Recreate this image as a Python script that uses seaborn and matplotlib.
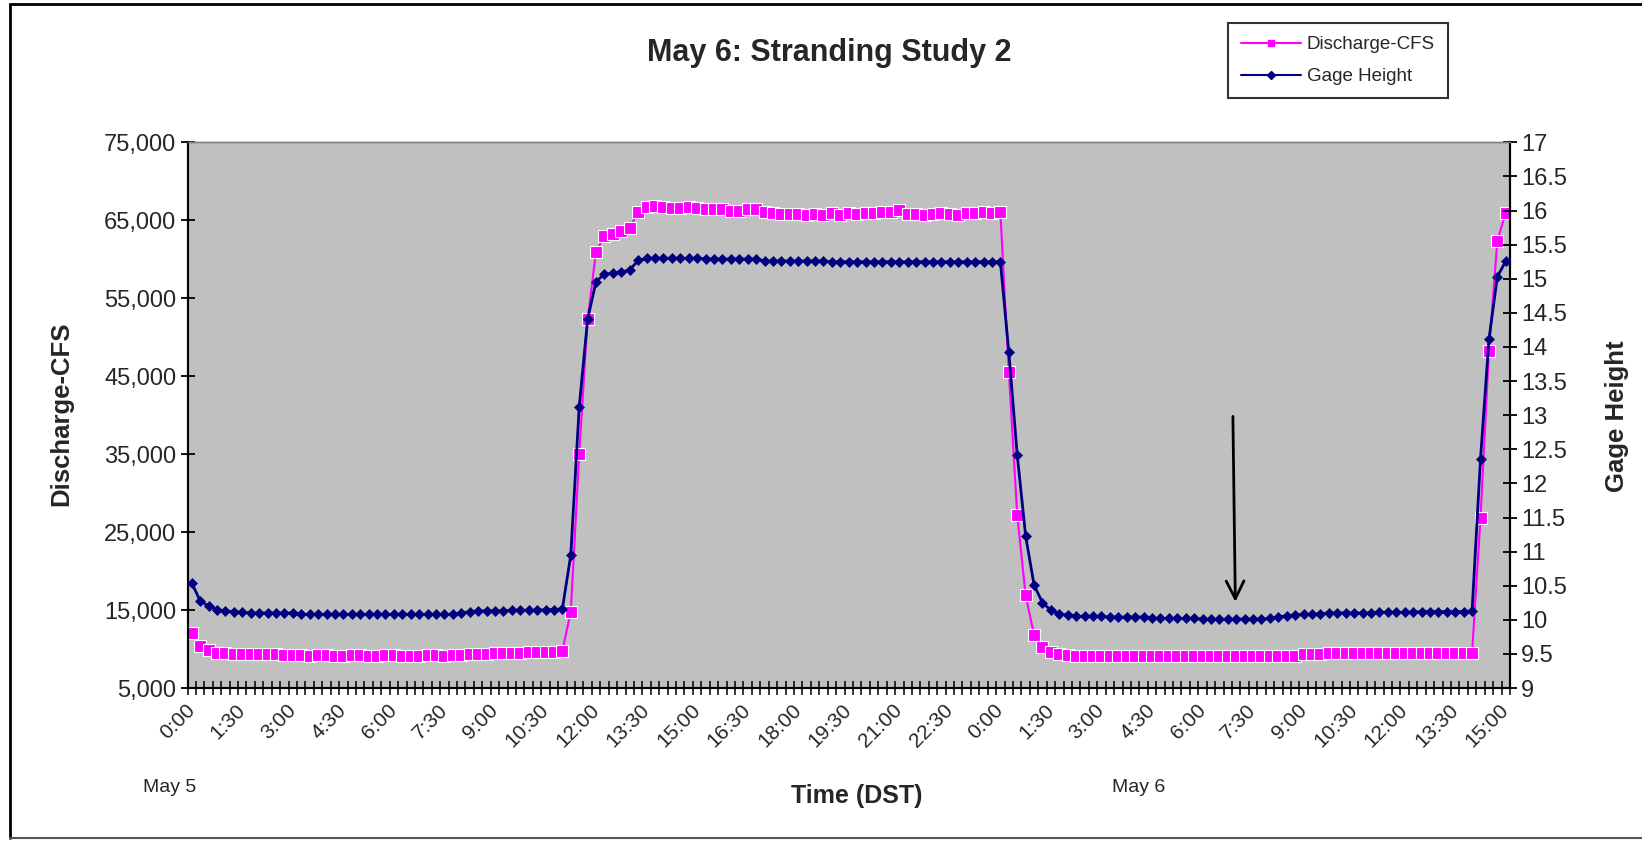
import matplotlib
matplotlib.use("Agg")
import matplotlib.pyplot as plt
import seaborn as sns
import pandas as pd
import numpy as np
from matplotlib.lines import Line2D
from matplotlib.ticker import FuncFormatter

# ---------------- data (15-minute readings, May 5 0:00 -> May 6 15:00) -------------
discharge_cfs = [
    12000, 10400, 9900, 9550, 9450,
    9350, 9350, 9350, 9350, 9350, 9350,
    9200, 9200, 9200, 9150, 9200, 9200, 9150, 9150, 9200, 9200, 9150,
    9150, 9200, 9200, 9150, 9150, 9150, 9200, 9200, 9150, 9200, 9250,
    9350, 9350, 9400,
    9500, 9500, 9500, 9550,
    9600, 9600, 9600, 9650,
    9750,
    14800, 35000, 52300, 61000, 63000, 63300, 63600, 64000,
    66100, 66650, 66850, 66750, 66550, 66550, 66650, 66550, 66450, 66450,
    66400, 66250, 66250, 66450, 66400, 66100, 66000, 65800, 65800, 65800,
    65700, 65800, 65700, 65900, 65700, 65900, 65800, 66000, 65900, 66100,
    66100, 66300, 65800, 65800, 65700, 65800, 65900, 65800, 65700, 65900,
    66000, 66100, 65900, 66100,
    45600, 27200, 16900, 11800, 10200, 9650, 9320,
    9230,
    9150, 9150, 9150, 9150,
    9050, 9050, 9050, 9050, 9050, 9050, 9050, 9050, 9050, 9050,
    9050, 9050, 9050, 9050, 9050, 9050, 9050, 9050, 9050,
    9150, 9150, 9150, 9150,
    9320, 9320, 9350,
    9450, 9450, 9450, 9450, 9450, 9450, 9450, 9450, 9450, 9450,
    9500, 9500, 9500, 9500, 9500, 9500, 9500,
    9550,
    26800, 48200, 62400, 66000,
]

gage_height = [
    10.54, 10.28, 10.20, 10.15, 10.13, 10.12, 10.11,
    10.10, 10.10, 10.10, 10.10, 10.10, 10.10,
    10.08, 10.08, 10.08, 10.08, 10.08, 10.08, 10.08, 10.08, 10.08, 10.08,
    10.08, 10.08, 10.08, 10.08, 10.08, 10.08, 10.08, 10.08, 10.08,
    10.10, 10.12,
    10.13, 10.13, 10.13, 10.13,
    10.14, 10.14, 10.14, 10.14,
    10.15, 10.15, 10.16,
    10.95, 13.12, 14.41, 14.96, 15.07, 15.08, 15.10, 15.13,
    15.27,
    15.30, 15.30, 15.30, 15.30, 15.30, 15.30, 15.30,
    15.29, 15.29, 15.29, 15.29, 15.29, 15.29, 15.29,
    15.26, 15.26, 15.26, 15.26, 15.26, 15.26, 15.26, 15.26,
    15.25, 15.25, 15.25, 15.25, 15.25, 15.25, 15.25, 15.25, 15.25, 15.25,
    15.25, 15.25, 15.25, 15.25, 15.25, 15.25, 15.25, 15.25, 15.25, 15.25,
    15.25,
    13.93, 12.42, 11.23, 10.51, 10.25, 10.14, 10.085,
    10.07,
    10.05, 10.05, 10.05, 10.05,
    10.04, 10.04, 10.04, 10.04, 10.04,
    10.02, 10.02, 10.02, 10.02, 10.02, 10.02,
    10.01, 10.01, 10.01, 10.01, 10.01, 10.01, 10.01, 10.01,
    10.02, 10.04, 10.06, 10.07,
    10.08, 10.08, 10.09,
    10.10, 10.10, 10.10, 10.10, 10.10, 10.10,
    10.11, 10.11, 10.11, 10.11, 10.11,
    10.12, 10.12, 10.12, 10.12, 10.12, 10.12,
    10.13,
    12.36, 14.11, 15.03, 15.26,
]

time_tick_labels = [
    "0:00", "1:30", "3:00", "4:30", "6:00", "7:30", "9:00", "10:30", "12:00",
    "13:30", "15:00", "16:30", "18:00", "19:30", "21:00", "22:30", "0:00",
    "1:30", "3:00", "4:30", "6:00", "7:30", "9:00", "10:30", "12:00",
    "13:30", "15:00",
]
label_every = 6  # one label every 6 readings (1.5 h)

df = pd.DataFrame({
    "reading": np.arange(len(discharge_cfs)),
    "Discharge-CFS": discharge_cfs,
    "Gage Height": gage_height,
})

# ---------------- figure ---------------------------------------------------------
sns.set_theme(style="white")
plt.rcParams["font.family"] = ["Liberation Sans", "DejaVu Sans"]

MAG = "#FF00FF"
NAVY = "#000080"

fig = plt.figure(figsize=(16.42, 8.47), dpi=100)
ax = fig.add_axes([0.1142, 0.1877, 0.8054, 0.6442])
ax.set_facecolor("#C0C0C0")

sns.lineplot(data=df, x="reading", y="Discharge-CFS", ax=ax, color=MAG,
             lw=1.5, marker="s", markersize=8, markeredgecolor="white",
             markeredgewidth=0.8, zorder=3)
ax2 = ax.twinx()
sns.lineplot(data=df, x="reading", y="Gage Height", ax=ax2, color=NAVY,
             lw=2.0, marker="D", markersize=5.5, markeredgecolor=NAVY,
             markeredgewidth=0.5, zorder=4)

n = len(discharge_cfs)
ax.set_xlim(-0.5, n - 0.5)
ax.set_ylim(5000, 75000)
ax2.set_ylim(9, 17)

ax.set_yticks(np.arange(5000, 75001, 10000))
ax.yaxis.set_major_formatter(FuncFormatter(lambda v, p: f"{int(v):,}"))
ax2.set_yticks(np.arange(9, 17.01, 0.5))
ax2.yaxis.set_major_formatter(FuncFormatter(lambda v, p: f"{v:g}"))

ax.set_xticks(np.arange(0, n, label_every))
ax.set_xticklabels(time_tick_labels, rotation=45, ha="right", va="center",
                   rotation_mode="anchor", fontsize=15)
ax.set_xticks(np.arange(-0.5, n, 1), minor=True)
ax.tick_params(axis="x", which="major", length=0, pad=14)
ax.tick_params(axis="x", which="minor", direction="inout", length=10,
               width=1.1, color="black", bottom=True)
ax.tick_params(axis="y", direction="inout", length=10, width=1.3,
               color="black", labelsize=17, pad=3, left=True)
ax2.tick_params(axis="y", direction="inout", length=10, width=1.3,
                color="black", labelsize=17, pad=3, right=True)

ax.set_xlabel("")
ax.set_ylabel("")
ax2.set_ylabel("")
ax.grid(False)
ax2.grid(False)

for a in (ax, ax2):
    for s in ("left", "bottom", "right"):
        a.spines[s].set_color("black")
        a.spines[s].set_linewidth(1.5)
    a.spines["top"].set_color("#808080")
    a.spines["top"].set_linewidth(1.0)

# arrow annotation
ax.annotate("", xy=(123.9, 15700), xytext=(123.6, 40200),
            arrowprops=dict(arrowstyle="->", color="black", lw=2,
                            mutation_scale=32))

# texts
fig.text(0.505, 0.937, "May 6: Stranding Study 2", ha="center", va="center",
         fontsize=22, fontweight="bold")
fig.text(0.037, 0.511, "Discharge-CFS", rotation=90, ha="center", va="center",
         fontsize=18.5, fontweight="bold")
fig.text(0.985, 0.509, "Gage Height", rotation=90, ha="center", va="center",
         fontsize=18.5, fontweight="bold")
fig.text(0.522, 0.060, "Time (DST)", ha="center", va="center",
         fontsize=18, fontweight="bold")
fig.text(0.1035, 0.0708, "May 5", ha="center", va="center", fontsize=14)
fig.text(0.6937, 0.0708, "May 6", ha="center", va="center", fontsize=14)

# legend
handles = [
    Line2D([], [], color=MAG, lw=1.5, marker="s", markersize=5,
           markeredgecolor=MAG),
    Line2D([], [], color=NAVY, lw=1.5, marker="D", markersize=4,
           markeredgecolor=NAVY),
]
leg = fig.legend(handles, ["Discharge-CFS", "Gage Height"], loc="upper left",
                 bbox_to_anchor=(0.748, 0.973), borderaxespad=0, frameon=True,
                 fancybox=False, edgecolor="black", fontsize=13.5,
                 handlelength=3.2, borderpad=0.7, labelspacing=0.8,
                 handletextpad=0.3)
leg.get_frame().set_linewidth(1.5)

# outer chart border
fig.add_artist(Line2D([10 / 1642, 10 / 1642], [1 - 838 / 847, 1 - 4 / 847],
                      transform=fig.transFigure, color="black", lw=2))
fig.add_artist(Line2D([10 / 1642, 1], [1 - 4 / 847, 1 - 4 / 847],
                      transform=fig.transFigure, color="black", lw=2))
fig.add_artist(Line2D([10 / 1642, 1], [1 - 838 / 847, 1 - 838 / 847],
                      transform=fig.transFigure, color="#555555", lw=1.5))

fig.savefig("out.png", dpi=100)
